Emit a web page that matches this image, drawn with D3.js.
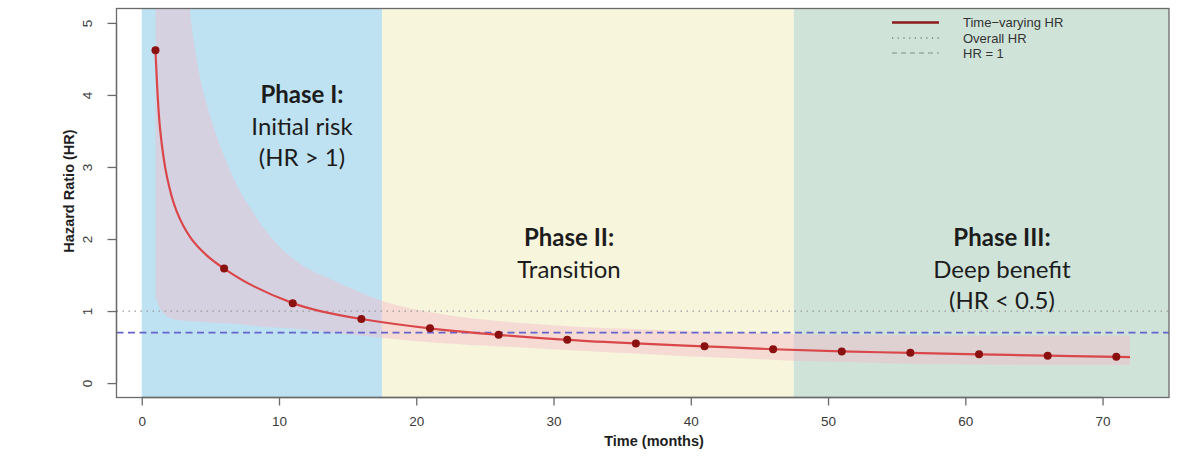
<!DOCTYPE html>
<html>
<head>
<meta charset="utf-8">
<script src="https://cdn.jsdelivr.net/npm/d3@7"></script>
<style>
  html, body { margin: 0; padding: 0; background: #ffffff; }
  svg { display: block; }
</style>
</head>
<body>
<svg id="chart" width="1200" height="462"></svg>
<script>
// ---------------- data ----------------
const phaseNames = ["Phase I:", "Phase II:", "Phase III:"];
const phaseSub = [["Initial risk", "(HR > 1)"], ["Transition"], ["Deep benefit", "(HR < 0.5)"]];
const phaseStart = [0, 17.5, 47.5];
const phaseEnd = [17.5, 47.5, null]; // null = to plot edge
const phaseColors = ["#bee2f2", "#f7f5dc", "#cfe3d8"];

const lineTime = [1, 1.35, 1.85, 2.55, 3.55, 4.75, 6, 8, 11, 13, 16, 21, 26, 31, 36, 41, 46, 51, 56, 61, 66, 71, 72];
const lineHR   = [4.62, 3.5, 2.85, 2.38, 2.02, 1.77, 1.59, 1.36, 1.11, 1.0, 0.89, 0.76, 0.67, 0.60, 0.55, 0.51, 0.47, 0.44, 0.42, 0.40, 0.38, 0.365, 0.36];

const dotTime = [1, 6, 11, 16, 21, 26, 31, 36, 41, 46, 51, 56, 61, 66, 71];
const dotHR   = [4.62, 1.59, 1.11, 0.89, 0.76, 0.67, 0.60, 0.55, 0.51, 0.47, 0.44, 0.42, 0.40, 0.38, 0.365];

const ciTime  = [1, 1.3, 1.7, 2.3, 3, 3.5, 4, 5, 6, 7, 8, 9, 10, 12, 14, 17.5, 20, 24, 28, 32, 36, 40, 44, 47.5, 52, 56, 60, 64, 68, 72];
const ciUpper = [30, 24, 16, 10, 6.5, 5.2, 4.5, 3.7, 3.15, 2.72, 2.4, 2.12, 1.9, 1.6, 1.42, 1.14, 1.02, 0.9, 0.83, 0.78, 0.75, 0.72, 0.70, 0.68, 0.67, 0.665, 0.66, 0.66, 0.66, 0.66];
const ciLower = [1.2, 1.05, 0.95, 0.89, 0.87, 0.86, 0.855, 0.84, 0.83, 0.82, 0.8, 0.78, 0.77, 0.74, 0.7, 0.63, 0.58, 0.53, 0.49, 0.45, 0.41, 0.37, 0.34, 0.31, 0.29, 0.27, 0.26, 0.25, 0.25, 0.25];

const overallHR = 0.70;
const nullHR = 1;

const xTicks = [0, 10, 20, 30, 40, 50, 60, 70];
const yTicks = [0, 1, 2, 3, 4, 5];
const xDomain = [-1.84, 74.84];
const yDomain = [-0.2, 5.2];

const legendLabels = ["Time\u2212varying HR", "Overall HR", "HR = 1"];

// ---------------- layout ----------------
const svg = d3.select("#chart");
const L = 116.5, R = 1169, T = 8.5, B = 397.5;
const x = d3.scaleLinear().domain(xDomain).range([L, R]);
const y = d3.scaleLinear().domain(yDomain).range([B, T]);

svg.append("defs").append("clipPath").attr("id", "plotclip")
  .append("rect").attr("x", L).attr("y", T).attr("width", R - L).attr("height", B - T);

const plot = svg.append("g").attr("clip-path", "url(#plotclip)");

// phase bands
plot.selectAll("rect.phase").data(phaseStart).enter().append("rect")
  .attr("class", "phase")
  .attr("x", (d) => x(d))
  .attr("width", (d, i) => x(phaseEnd[i] === null ? xDomain[1] : phaseEnd[i]) - x(d))
  .attr("y", T).attr("height", B - T)
  .attr("fill", (d, i) => phaseColors[i]);

// confidence band
const ciData = ciTime.map((t, i) => ({ t, lo: ciLower[i], hi: ciUpper[i] }));
plot.append("path").datum(ciData)
  .attr("d", d3.area().x(d => x(d.t)).y0(d => y(d.lo)).y1(d => y(d.hi)).curve(d3.curveMonotoneX))
  .attr("fill", "rgba(242,190,205,0.47)");

// reference lines
plot.append("line")
  .attr("x1", L).attr("x2", R).attr("y1", y(nullHR)).attr("y2", y(nullHR))
  .attr("stroke", "#9a9a9a").attr("stroke-width", 1.2).attr("stroke-dasharray", "1.5,4.5");
plot.append("line")
  .attr("x1", L).attr("x2", R).attr("y1", y(overallHR)).attr("y2", y(overallHR))
  .attr("stroke", "#6464cc").attr("stroke-width", 1.6).attr("stroke-dasharray", "7,4.5");

// curve
const lineData = lineTime.map((t, i) => ({ t, v: lineHR[i] }));
plot.append("path").datum(lineData)
  .attr("d", d3.line().x(d => x(d.t)).y(d => y(d.v)).curve(d3.curveCatmullRom.alpha(0.5)))
  .attr("fill", "none").attr("stroke", "#d9474a").attr("stroke-width", 2.2);

// dots
plot.selectAll("circle.pt").data(dotTime).enter().append("circle")
  .attr("class", "pt")
  .attr("cx", d => x(d)).attr("cy", (d, i) => y(dotHR[i])).attr("r", 4)
  .attr("fill", "#8b1111");

// phase text
const phaseCx = [302, 569, 1002];
const phaseTitleY = [103, 246, 246];
const tg = svg.append("g").attr("font-family", "Lato, 'Open Sans', sans-serif").attr("fill", "#1c1c1c").attr("text-anchor", "middle");
phaseNames.forEach((name, i) => {
  tg.append("text").attr("x", phaseCx[i]).attr("y", phaseTitleY[i])
    .attr("font-size", 24).attr("font-weight", "bold").text(name);
  phaseSub[i].forEach((s, j) => {
    tg.append("text").attr("x", phaseCx[i]).attr("y", phaseTitleY[i] + 31.5 * (j + 1))
      .attr("font-size", 24).text(s);
  });
});

// box
svg.append("rect").attr("x", L).attr("y", T).attr("width", R - L).attr("height", B - T)
  .attr("fill", "none").attr("stroke", "#6a6a6a").attr("stroke-width", 1.3);

// axes
const xAxis = svg.append("g").attr("transform", `translate(0,${B})`)
  .call(d3.axisBottom(x).tickValues(xTicks).tickSize(8).tickPadding(11).tickFormat(d3.format("d")));
xAxis.select(".domain").attr("d", `M${x(0)},0H${x(70)}`).attr("stroke", "#6a6a6a").attr("stroke-width", 1.3);
xAxis.selectAll(".tick line").attr("stroke", "#6a6a6a").attr("stroke-width", 1.3);
xAxis.selectAll(".tick text").attr("font-family", "'Liberation Sans', Arial, sans-serif").attr("font-size", 13.5).attr("fill", "#3a3a3a");

const yAxis = svg.append("g").attr("transform", `translate(${L},0)`)
  .call(d3.axisLeft(y).tickValues(yTicks).tickSize(9).tickFormat(d3.format("d")));
yAxis.select(".domain").attr("d", `M0,${y(0)}V${y(5)}`).attr("stroke", "#6a6a6a").attr("stroke-width", 1.3);
yAxis.selectAll(".tick line").attr("stroke", "#6a6a6a").attr("stroke-width", 1.3);
yAxis.selectAll(".tick text")
  .attr("font-family", "'Liberation Sans', Arial, sans-serif").attr("font-size", 13.5).attr("fill", "#3a3a3a")
  .attr("x", null).attr("dy", null).attr("text-anchor", "middle")
  .attr("transform", "translate(-29,0) rotate(-90)")
  .attr("dominant-baseline", "central");

// axis titles
svg.append("text").attr("x", 654).attr("y", 446)
  .attr("text-anchor", "middle").attr("font-family", "'Liberation Sans', Arial, sans-serif")
  .attr("font-size", 14.5).attr("font-weight", "bold").attr("fill", "#1e1e1e").text("Time (months)");
svg.append("text").attr("transform", "translate(74,191) rotate(-90)")
  .attr("text-anchor", "middle").attr("font-family", "'Liberation Sans', Arial, sans-serif")
  .attr("font-size", 14.5).attr("font-weight", "bold").attr("fill", "#1e1e1e").text("Hazard Ratio (HR)");

// legend
const legY = [22.5, 38, 53];
const legStroke = ["#8b1a1a", "#555555", "#8a8a8a"];
const legWidth = [2.4, 1.2, 1.0];
const legDash = [null, "1.2,4.5", "5,4"];
const lg = svg.append("g");
legendLabels.forEach((lab, i) => {
  lg.append("line").attr("x1", 892).attr("x2", 939).attr("y1", legY[i]).attr("y2", legY[i])
    .attr("stroke", legStroke[i]).attr("stroke-width", legWidth[i])
    .attr("stroke-dasharray", legDash[i]);
  lg.append("text").attr("x", 963).attr("y", legY[i]).attr("dominant-baseline", "central")
    .attr("font-family", "'Liberation Sans', Arial, sans-serif").attr("font-size", 13)
    .attr("fill", "#333").text(lab);
});
</script>
</body>
</html>
